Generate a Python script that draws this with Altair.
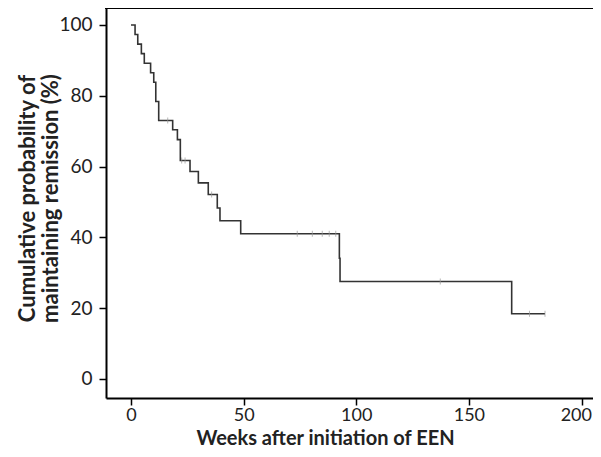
import altair as alt
import pandas as pd

# Kaplan-Meier step curve (weeks, % maintaining remission)
step_weeks = [0, 1.8, 3.0, 4.6, 5.9, 8.7, 10.1, 11.0, 12.3, 18.5, 20.6, 21.9,
              26.2, 29.9, 34.3, 38.3, 39.5, 48.7, 92.5, 92.8, 169.0, 183.8]
step_pct = [100, 97.3, 94.6, 91.9, 89.2, 86.5, 83.8, 78.4, 73.0, 70.4, 67.6, 61.7,
            58.6, 55.4, 52.1, 48.3, 44.7, 41.0, 34.1, 27.5, 18.4, 18.4]

# censored observations
censor_weeks = [16.3, 22.5, 24.0, 35.8, 73.8, 80.5, 84.9, 88.0, 90.9, 137.3, 176.9, 183.8]
censor_pct = [73.0, 61.7, 61.7, 52.1, 41.0, 41.0, 41.0, 41.0, 41.0, 27.5, 18.4, 18.4]

x_ticks = [0, 50, 100, 150, 200]
y_ticks = [0, 20, 40, 60, 80, 100]

W, H = 487, 390
FONT = "Lato"

steps = pd.DataFrame({"weeks": step_weeks, "pct": step_pct})
cens = pd.DataFrame({"weeks": censor_weeks, "pct": censor_pct})

xs = alt.Scale(domain=[-11.1, 205.1], nice=False, zero=False)
ys = alt.Scale(domain=[-5.4, 104.8], nice=False, zero=False)

x_axis = alt.Axis(title="Weeks after initiation of EEN", values=x_ticks, grid=False,
                  domainColor="black", domainWidth=2, tickColor="black", tickWidth=1.5,
                  tickSize=7, labelFontSize=18, labelColor="#222", labelFont=FONT,
                  labelPadding=1, labelFlush=12, labelFlushOffset=10,
                  titleFont=FONT, titleFontSize=20, titleFontWeight="bold",
                  titleColor="#222", titleBaseline="middle", titleY=40, titleX=219)
y_axis = alt.Axis(title=["Cumulative probability of", "maintaining remission (%)"],
                  values=y_ticks, grid=False, domainColor="black", domainWidth=2,
                  tickColor="black", tickWidth=1.5, tickSize=7, labelFontSize=19,
                  labelColor="#222", labelFont=FONT, labelPadding=7, titleFont=FONT,
                  titleFontSize=22, titleFontWeight="bold", titleColor="#222",
                  titleLineHeight=23, titleBaseline="middle", titleAngle=-90,
                  titleX=-79, titleY=H / 2 - 5)

line = alt.Chart(steps).mark_line(interpolate="step-after", color="#333", strokeWidth=1.6).encode(
    x=alt.X("weeks:Q", scale=xs, axis=x_axis),
    y=alt.Y("pct:Q", scale=ys, axis=y_axis),
)

ticks = alt.Chart(cens).mark_tick(orient="vertical", size=6, thickness=1, color="#999").encode(
    x=alt.X("weeks:Q", scale=xs),
    y=alt.Y("pct:Q", scale=ys),
)

top_line = alt.Chart(steps).mark_rule(color="black", strokeWidth=2).encode(
    x=alt.value(-1), x2=alt.value(W), y=alt.value(0)
)

chart = alt.layer(line, ticks, top_line).properties(
    width=W, height=H,
    autosize=alt.AutoSizeParams(type="none"),
    padding={"left": 98, "top": 0, "right": 0, "bottom": 51},
).configure_view(stroke=None)

chart.save("out.html", embed_options={"renderer": "svg", "actions": False})
